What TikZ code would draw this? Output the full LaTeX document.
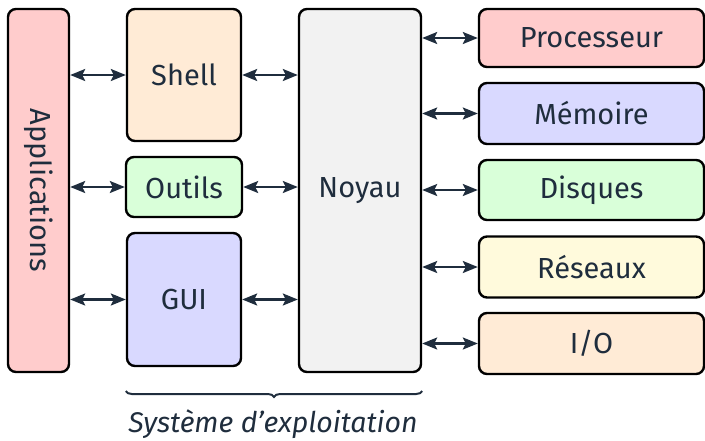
\documentclass[tikz,border=0pt]{standalone}
\usepackage{fontspec}
\setmainfont{Fira Sans}
\usetikzlibrary{arrows.meta,decorations.pathreplacing}
\definecolor{ink}{HTML}{1F2D3D}
\definecolor{cRed}{HTML}{FFCCCC}
\definecolor{cPeach}{HTML}{FFEBD6}
\definecolor{cGreen}{HTML}{D9FFD9}
\definecolor{cBlue}{HTML}{D9D9FF}
\definecolor{cGray}{HTML}{F2F2F2}
\definecolor{cYellow}{HTML}{FFFADC}
\tikzset{
  box/.style={draw=black, line width=2.4pt, rounded corners=8pt, inner sep=0pt,
    text=ink, font=\fontsize{29}{34}\selectfont},
  tip/.style={Stealth[length=15pt,width=12pt,inset=3pt]},
  link/.style={draw=ink, line width=2.2pt, {Stealth[length=15pt,width=12pt,inset=3pt]}-{Stealth[length=15pt,width=12pt,inset=3pt]}},
}
\begin{document}
\begin{tikzpicture}[x=1pt,y=-1pt]
  \useasboundingbox (0,0) rectangle (705,440);
  % left column
  \node[box, fill=cRed, minimum width=61pt, minimum height=363pt] (app) at (38.5,190.5)
    {\rotatebox{-90}{Applications}};
  % system layer
  \node[box, fill=cPeach, minimum width=114pt, minimum height=132pt] (shell) at (184,75) {Shell};
  \node[box, fill=cGreen, minimum width=116pt, minimum height=60pt] (outils) at (184,187) {Outils};
  \node[box, fill=cBlue, minimum width=114pt, minimum height=133pt] (gui) at (184,299.5) {GUI};
  \node[box, fill=cGray, minimum width=122pt, minimum height=363pt] (noyau) at (360,190.5) {Noyau};
  % hardware
  \node[box, fill=cRed, minimum width=225pt, minimum height=58pt] (proc) at (591.5,38) {Processeur};
  \node[box, fill=cBlue, minimum width=225pt, minimum height=61pt] (mem) at (591.5,113.5) {Mémoire};
  \node[box, fill=cGreen, minimum width=225pt, minimum height=60pt] (disq) at (591.5,190) {Disques};
  \node[box, fill=cYellow, minimum width=225pt, minimum height=61pt] (res) at (591.5,267) {Réseaux};
  \node[box, fill=cPeach, minimum width=225pt, minimum height=61pt] (io) at (591.5,343.5) {I/O};
  % connectors
  \foreach \n in {shell,outils,gui}{
    \draw[link] (app.east |- \n.west) -- (\n.west);
    \draw[link] (\n.east) -- (noyau.west |- \n.east);
  }
  \foreach \n in {proc,mem,disq,res,io}{
    \draw[link] (noyau.east |- \n.west) -- (\n.west);
  }
  % brace under the system layer
  \coordinate (bl) at (shell.west |- 0,391);
  \coordinate (br) at (noyau.east |- 0,391);
  \draw[draw=ink, line width=2pt, decorate,
    decoration={brace, mirror, amplitude=6pt}] (bl) -- (br);
  \node[text=ink, font=\fontsize{28.5}{34}\selectfont\itshape] (os) at (273,424)
    {Système d’exploitation};
\end{tikzpicture}
\end{document}
